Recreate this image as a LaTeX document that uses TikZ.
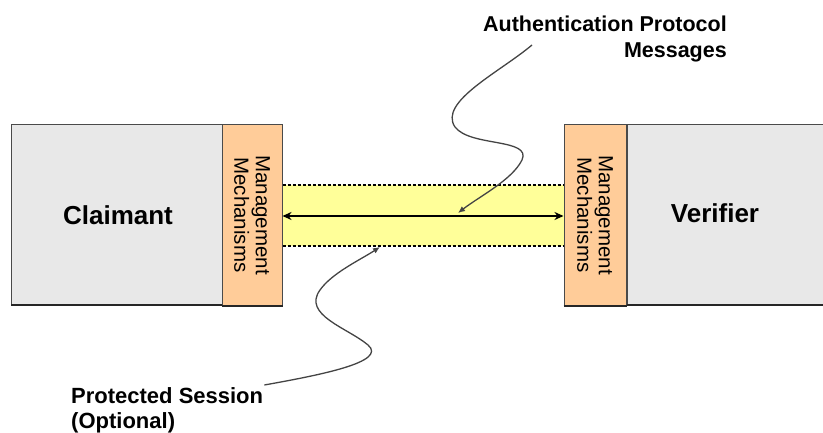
\documentclass[tikz,border=0pt]{standalone}
\usepackage{fontspec}
\setmainfont{Liberation Sans}
\usetikzlibrary{arrows.meta}
\definecolor{boxgray}{HTML}{E8E8E8}
\definecolor{edgegray}{HTML}{4A4A4A}
\definecolor{peach}{HTML}{FFCC99}
\definecolor{paleyellow}{HTML}{FFFF99}
\definecolor{leadergray}{HTML}{444444}
\tikzset{
  party/.style={draw=edgegray, fill=boxgray, line width=1pt, inner sep=0pt},
  mgmt/.style={draw=edgegray, fill=peach, line width=1pt, inner sep=0pt, minimum width=60pt, minimum height=180pt},
  mgmttext/.style={rotate=-90, align=center, font=\fontsize{20.5}{21.5}\selectfont, inner sep=0pt},
  partytext/.style={font=\fontsize{26}{30}\selectfont\bfseries},
  lbl/.style={font=\fontsize{21.5}{26}\selectfont\bfseries, inner sep=0pt},
  leader/.style={draw=leadergray, line width=1.3pt, -{Latex[length=7pt,width=6pt]}},
  bandline/.style={draw=black, line width=1.2pt, dash pattern=on 3pt off 2pt},
  msgarrow/.style={line width=2.6pt, {Stealth[length=9pt,width=8pt]}-{Stealth[length=9pt,width=8pt]}},
  shadowedge/.style={draw=black!85, line width=2pt}
}
\begin{document}
\begin{tikzpicture}[x=1pt,y=-1pt]
\useasboundingbox (0,0) rectangle (823,433);
% parties
\draw[party] (11,125) rectangle (222,305);
\draw[shadowedge] (11,305) -- (222,305);
\node[partytext] (claimant) at (118,215) {Claimant};
\fill[boxgray] (627,125) rectangle (823,305);
\draw[edgegray, line width=1pt] (823,125) -- (627,125) -- (627,305);
\draw[shadowedge] (627,305) -- (823,305);
\node[partytext] (verifier) at (715,213) {Verifier};
% management mechanisms
\node[mgmt] (lm) at (252,215) {};
\draw[shadowedge] (lm.south west) -- (lm.south east);
\node[mgmttext] (lmt) at (lm.center) {Management\\Mechanisms};
\node[mgmt, minimum width=62pt] (rm) at (595,215) {};
\draw[shadowedge] (rm.south west) -- (rm.south east);
\node[mgmttext] (rmt) at (rm.center) {Management\\Mechanisms};
% protected session band
\fill[paleyellow] (282.5,185) rectangle (563.5,246);
\coordinate (bandTL) at (282.5,185);
\coordinate (bandTR) at (563.5,185);
\coordinate (bandBL) at (282.5,246);
\coordinate (bandBR) at (563.5,246);
\draw[bandline] (bandTL) -- (bandTR);
\draw[bandline] (bandBL) -- (bandBR);
% message arrow
\draw[msgarrow] (lm.east |- 0,216) -- (rm.west |- 0,216);
\coordinate (msgtip) at (458,213);
\coordinate (sesstip) at (380,247);
% labels
\node[lbl, align=right, anchor=north east] (auth) at (727,16) {Authentication Protocol\\Messages};
\node[font=\fontsize{22}{25}\selectfont\bfseries, inner sep=0pt, align=left, anchor=north west] (sess) at (71,387) {Protected Session\\(Optional)};
% leaders
\draw[leader] (532,45) .. controls (500,72) and (438,102) .. (455,127)
  .. controls (470,147) and (532,138) .. (522,160)
  .. controls (512,180) and (480,196) .. (msgtip);
\draw[leader] (sess.north east) ++(1,-2) .. controls (320,375) and (388,362) .. (368,345)
  .. controls (348,328) and (302,315) .. (320,290)
  .. controls (332,273) and (360,260) .. (sesstip);
\end{tikzpicture}
\end{document}
